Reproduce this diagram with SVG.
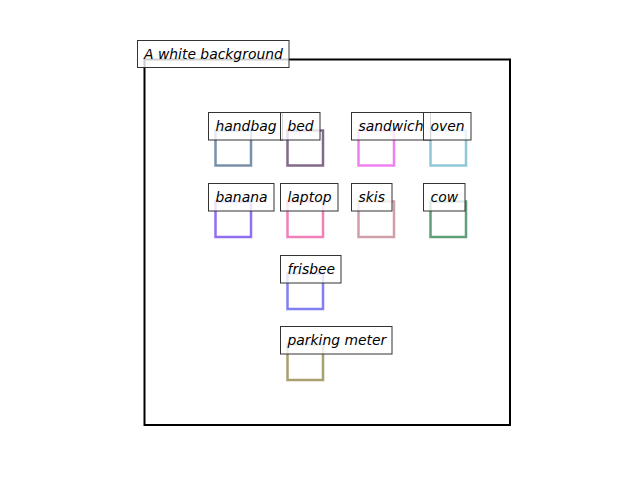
<svg xmlns="http://www.w3.org/2000/svg" width="640" height="480" viewBox="0 0 640 480">
<style>
.sq{fill:none;stroke-width:2.5}
.lb{fill:#fff;fill-opacity:0.8;stroke:#333;stroke-width:1}
.t{font-family:"DejaVu Sans",sans-serif;font-style:oblique;font-size:13.9px;fill:#000}
</style>
<rect width="640" height="480" fill="#fff"/>
<rect x="144.5" y="59.5" width="365.5" height="365.5" fill="none" stroke="#000" stroke-width="2"/>
<g id="squares">
<rect class="sq" x="215.5" y="130.5" width="35.5" height="35" stroke="#7890a8"/>
<rect class="sq" x="287.5" y="130.5" width="35.5" height="35" stroke="#806a88"/>
<rect class="sq" x="358.5" y="130.5" width="35.5" height="35" stroke="#f080f0"/>
<rect class="sq" x="430.5" y="130.5" width="35.5" height="35" stroke="#90c8d8"/>
<rect class="sq" x="215.5" y="201.5" width="35.5" height="35.5" stroke="#9070f0"/>
<rect class="sq" x="287.5" y="201.5" width="35.5" height="35.5" stroke="#f080b8"/>
<rect class="sq" x="358.5" y="201.5" width="35.5" height="35.5" stroke="#d0a0a8"/>
<rect class="sq" x="430.5" y="201.5" width="35.5" height="35.5" stroke="#60a078"/>
<rect class="sq" x="287.5" y="273.5" width="35.5" height="35.5" stroke="#8080f0"/>
<rect class="sq" x="287.5" y="344.5" width="35.5" height="35.5" stroke="#a8a070"/>
</g>
<g id="title"><rect class="lb" x="137.5" y="40.5" width="151.5" height="27"/><text class="t" x="144" y="58.5">A white background</text></g>
<g id="handbag"><rect class="lb" x="208.5" y="112.5" width="74" height="27.5"/><text class="t" x="215.5" y="130.5">handbag</text></g>
<g id="bed"><rect class="lb" x="280.5" y="112.5" width="39.5" height="27.5"/><text class="t" x="287.5" y="130.5">bed</text></g>
<g id="sandwich"><rect class="lb" x="351.5" y="112.5" width="79" height="27.5"/><text class="t" x="358.5" y="130.5">sandwich</text></g>
<g id="oven"><rect class="lb" x="423.5" y="112.5" width="47.5" height="27.5"/><text class="t" x="430.5" y="130.5">oven</text></g>
<g id="banana"><rect class="lb" x="208.5" y="183.5" width="65.5" height="27.5"/><text class="t" x="215.5" y="201.5">banana</text></g>
<g id="laptop"><rect class="lb" x="280.5" y="183.5" width="57.5" height="27.5"/><text class="t" x="287.5" y="201.5">laptop</text></g>
<g id="skis"><rect class="lb" x="351.5" y="183.5" width="40.5" height="27.5"/><text class="t" x="358.5" y="201.5">skis</text></g>
<g id="cow"><rect class="lb" x="423.5" y="183.5" width="41.5" height="27.5"/><text class="t" x="430.5" y="201.5">cow</text></g>
<g id="frisbee"><rect class="lb" x="280.5" y="255.5" width="60.5" height="27.5"/><text class="t" x="287.5" y="273.5">frisbee</text></g>
<g id="parking_meter"><rect class="lb" x="280.5" y="326.5" width="111.5" height="27.5"/><text class="t" x="287.5" y="344.5">parking meter</text></g>
<g id="connectors"/>
</svg>
